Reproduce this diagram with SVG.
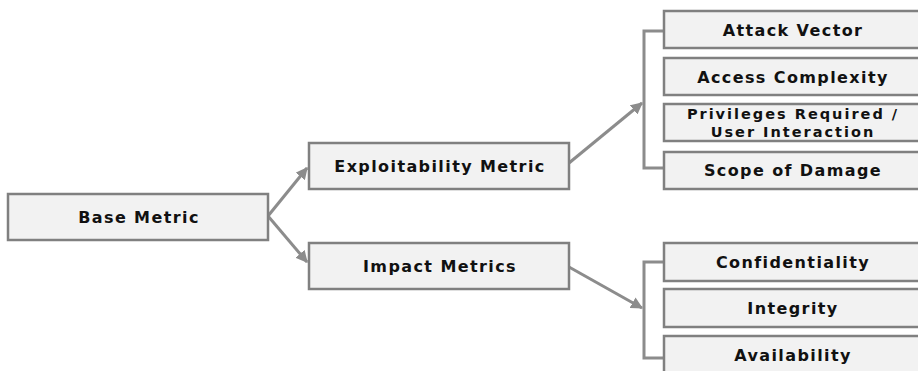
<svg xmlns="http://www.w3.org/2000/svg" width="918" height="371" viewBox="0 0 918 371">
<style>
.box{fill:#f2f2f2;stroke:#808080;stroke-width:2.5}
.lbl{font-family:"DejaVu Sans",sans-serif;font-weight:bold;font-size:16px;letter-spacing:1.4px;fill:#111111;text-anchor:middle}
.sm{font-size:14.5px;letter-spacing:2px}
.con{fill:none;stroke:#8c8c8c;stroke-width:3}
</style>
<defs>
<marker id="ah" viewBox="0 0 10 10" refX="9" refY="5" markerWidth="4" markerHeight="4" orient="auto" markerUnits="strokeWidth">
<path d="M0,0 L10,5 L0,10 z" fill="#8c8c8c"/>
</marker>
</defs>
<rect width="918" height="371" fill="#ffffff"/>
<g id="connectors">
<line class="con" x1="268" y1="216" x2="307" y2="168" marker-end="url(#ah)"/>
<line class="con" x1="268" y1="216" x2="307" y2="262" marker-end="url(#ah)"/>
<line class="con" x1="569" y1="163" x2="642" y2="103" marker-end="url(#ah)"/>
<line class="con" x1="569" y1="267" x2="642" y2="308" marker-end="url(#ah)"/>
<path class="con" d="M664,31 H644 V168 H664"/>
<path class="con" d="M664,262 H644 V358 H664"/>
</g>
<g id="base-metric"><rect class="box" x="8" y="194" width="260" height="46"/><text class="lbl" x="139" y="223">Base Metric</text></g>
<g id="exploitability-metric"><rect class="box" x="309" y="143" width="260" height="46"/><text class="lbl" x="440" y="172">Exploitability  Metric</text></g>
<g id="impact-metrics"><rect class="box" x="309" y="243" width="260" height="46"/><text class="lbl" x="440" y="272">Impact  Metrics</text></g>
<g id="attack-vector"><rect class="box" x="664" y="11" width="260" height="37"/><text class="lbl" x="793" y="35.5">Attack Vector</text></g>
<g id="access-complexity"><rect class="box" x="664" y="58" width="260" height="37"/><text class="lbl" x="793" y="82.5">Access Complexity</text></g>
<g id="privileges-required"><rect class="box" x="664" y="104" width="260" height="37"/><text class="lbl sm" x="793" y="119">Privileges Required /</text><text class="lbl sm" x="793" y="136.5">User Interaction</text></g>
<g id="scope-of-damage"><rect class="box" x="664" y="152" width="260" height="37"/><text class="lbl" x="793" y="176">Scope of Damage</text></g>
<g id="confidentiality"><rect class="box" x="664" y="243" width="260" height="38"/><text class="lbl" x="793" y="267.5">Confidentiality</text></g>
<g id="integrity"><rect class="box" x="664" y="289" width="260" height="38"/><text class="lbl" x="793" y="313.5">Integrity</text></g>
<g id="availability"><rect class="box" x="664" y="336" width="260" height="40"/><text class="lbl" x="793" y="360.5">Availability</text></g>
</svg>
